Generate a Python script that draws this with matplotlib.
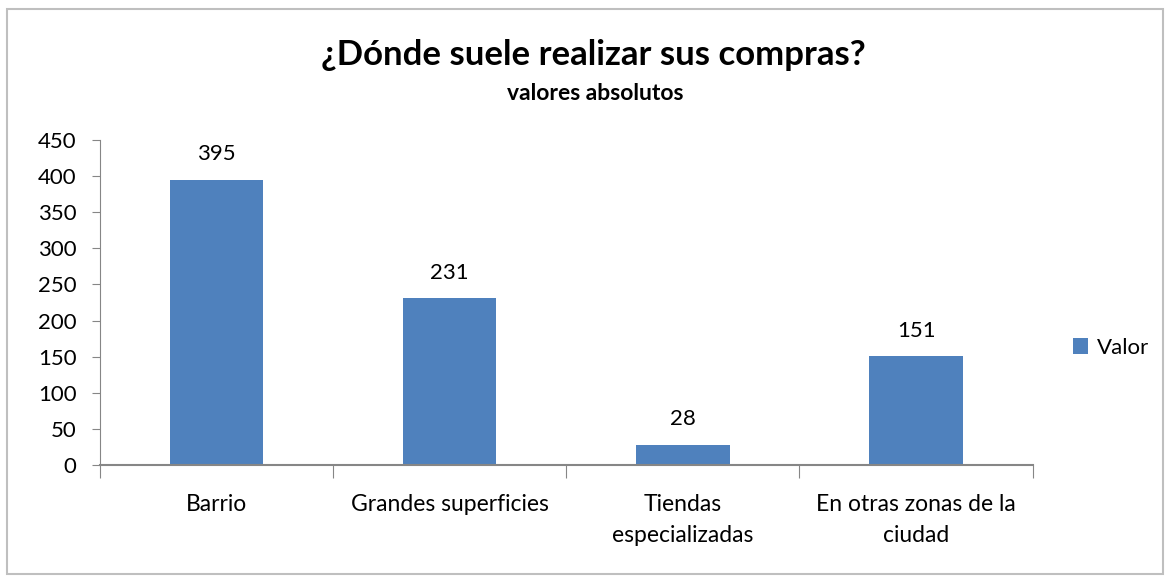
import matplotlib.pyplot as plt
import numpy as np
from matplotlib.patches import Rectangle

# Datos del grafico
categorias = ["Barrio", "Grandes superficies", "Tiendas\nespecializadas", "En otras zonas de la\nciudad"]
valores = [395, 231, 28, 151]
yticks = list(range(0, 451, 50))

plt.rcParams['font.family'] = ['Lato', 'DejaVu Sans']
color_barra = "#4f81bd"
color_eje = "#868686"

fig = plt.figure(figsize=(11.68, 5.78), dpi=100)
ax = fig.add_axes([0.0856, 0.1955, 0.7985, 0.5625])

x = np.arange(len(categorias))
barras = ax.bar(x, valores, width=0.4, color=color_barra, label="Valor", zorder=2)

for xi, v in zip(x, valores):
    ax.annotate(str(v), (xi, v), xytext=(0, 11), textcoords="offset points",
                ha="center", va="bottom", fontsize=16)

ax.set_xlim(-0.5, len(categorias) - 0.5)
ax.set_ylim(0, 450)
ax.set_yticks(yticks)
ax.tick_params(axis="y", labelsize=16, length=6, color=color_eje, pad=11)

# marcas del eje x entre categorias
ax.set_xticks(np.arange(-0.5, len(categorias)), minor=False)
ax.set_xticklabels([])
ax.set_xticks(x, minor=True)
ax.set_xticklabels(categorias, minor=True, fontsize=16.5, linespacing=1.55)
ax.tick_params(axis="x", which="major", length=9, color=color_eje)
ax.tick_params(axis="x", which="minor", length=0, pad=21)

for s in ["top", "right"]:
    ax.spines[s].set_visible(False)
ax.spines["left"].set_color(color_eje)
ax.spines["bottom"].set_color(color_eje)
ax.spines["bottom"].set_linewidth(1.5)

fig.text(0.508, 0.905, "¿Dónde suele realizar sus compras?", ha="center", va="center",
         fontsize=25, fontweight="bold")
fig.text(0.51, 0.838, "valores absolutos", ha="center", va="center",
         fontsize=16.5, fontweight="bold")

fig.legend(handles=[barras], loc="center left", bbox_to_anchor=(0.909, 0.398),
           frameon=False, fontsize=16, handlelength=0.7, handleheight=0.7,
           handletextpad=0.4, borderpad=0)

# marco del grafico
fig.patches.append(Rectangle((0.006, 0.007), 0.99, 0.978, transform=fig.transFigure,
                             fill=False, edgecolor="#bfbfbf", linewidth=1.5))

fig.savefig("out.png", dpi=100)
